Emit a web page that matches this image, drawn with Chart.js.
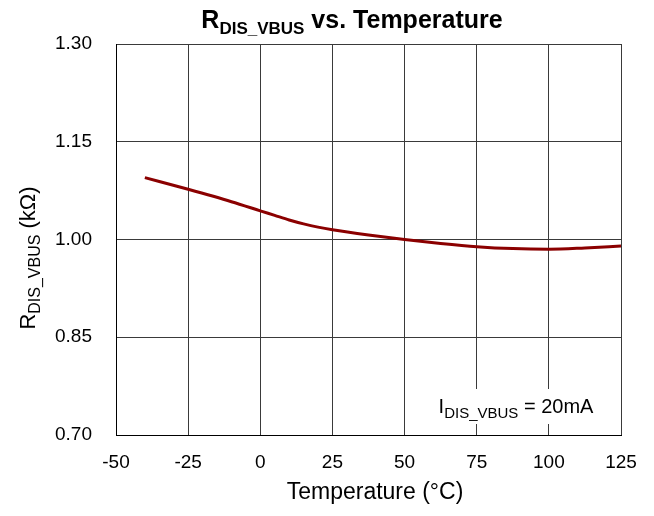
<!DOCTYPE html>
<html>
<head>
<meta charset="utf-8">
<script src="https://cdn.jsdelivr.net/npm/chart.js@4.4.1/dist/chart.umd.min.js"></script>
<style>
  html, body { margin: 0; padding: 0; background: #fff; }
  #c { display: block; }
</style>
</head>
<body>
<canvas id="c" width="654" height="516" style="width:654px;height:516px"></canvas>
<script>
/* data */
const temps = [-40, -25, -10, 0, 5, 10, 15, 20, 25, 37.5, 50, 62.5, 75, 87.5, 100, 112.5, 125];
const rdis  = [1.095, 1.077, 1.058, 1.044, 1.037, 1.030, 1.024, 1.019, 1.015, 1.007, 1.000, 0.994, 0.989, 0.986, 0.985, 0.987, 0.990];
const xTicks = [-50, -25, 0, 25, 50, 75, 100, 125];
const yTicks = [0.70, 0.85, 1.00, 1.15, 1.30];

const FONT = '"Liberation Sans", Arial, sans-serif';

// draws text made of parts (normal + subscript), centred on cx
const drawParts = (ctx, cx, y, parts) => {
  let w = 0;
  parts.forEach(p => {
    ctx.font = `${p.bold ? 'bold ' : ''}${p.size}px ${FONT}`;
    p.w = ctx.measureText(p.t).width;
    w += p.w;
  });
  let x = cx - w / 2;
  ctx.textAlign = 'left';
  ctx.textBaseline = 'alphabetic';
  parts.forEach(p => {
    ctx.font = `${p.bold ? 'bold ' : ''}${p.size}px ${FONT}`;
    ctx.fillText(p.t, x, y + (p.dy || 0));
    x += p.w;
  });
};

const textPlugin = {
  id: 'texts',
  beforeDatasetsDraw(chart) {
    // white box behind the note, hides the grid lines there
    const ctx = chart.ctx;
    ctx.save();
    ctx.fillStyle = '#fff';
    ctx.fillRect(420, 389, 199, 35);
    ctx.restore();
  },
  afterDraw(chart) {
    const ctx = chart.ctx;
    ctx.save();
    ctx.fillStyle = '#000';
    // title
    drawParts(ctx, 352, 28, [
      { t: 'R', size: 25, bold: true },
      { t: 'DIS_VBUS', size: 17, bold: true, dy: 6 },
      { t: ' vs. Temperature', size: 25, bold: true }
    ]);
    // x title
    ctx.font = `23px ${FONT}`;
    ctx.textAlign = 'center';
    ctx.textBaseline = 'middle';
    ctx.fillText('Temperature (°C)', 375, 493);
    // y title
    ctx.save();
    ctx.translate(35, 258);
    ctx.rotate(-Math.PI / 2);
    drawParts(ctx, 0, 0, [
      { t: 'R', size: 22 },
      { t: 'DIS_VBUS', size: 16, dy: 5 },
      { t: ' (kΩ)', size: 22 }
    ]);
    ctx.restore();
    // note
    drawParts(ctx, 516, 413, [
      { t: 'I', size: 20 },
      { t: 'DIS_VBUS', size: 15, dy: 5 },
      { t: ' = 20mA', size: 20 }
    ]);
    ctx.restore();
  }
};

new Chart(document.getElementById('c'), {
  type: 'line',
  data: {
    datasets: [{
      data: temps.map((t, i) => ({ x: t, y: rdis[i] })),
      borderColor: '#8b0000',
      borderWidth: 3,
      pointRadius: 0,
      fill: false,
      cubicInterpolationMode: 'monotone'
    }]
  },
  options: {
    responsive: false,
    animation: false,
    layout: { padding: { top: 44, right: 33, left: 0, bottom: 0 } },
    plugins: { legend: { display: false }, tooltip: { enabled: false }, title: { display: false } },
    scales: {
      x: {
        type: 'linear', min: -50, max: 125,
        afterBuildTicks: s => { s.ticks = xTicks.map(v => ({ value: v })); },
        afterFit: s => { s.height = 81; },
        grid: { color: '#3a3a3a', lineWidth: 1, drawTicks: false },
        border: { color: '#000', width: 1 },
        ticks: { padding: 16, color: '#000', font: { family: FONT, size: 19 }, callback: v => v, maxRotation: 0 }
      },
      y: {
        min: 0.70, max: 1.30,
        afterBuildTicks: s => { s.ticks = yTicks.map(v => ({ value: v })); },
        afterFit: s => { s.width = 116; },
        grid: { color: '#3a3a3a', lineWidth: 1, drawTicks: false },
        border: { color: '#000', width: 1 },
        ticks: { padding: 24, color: '#000', font: { family: FONT, size: 19 }, callback: v => v.toFixed(2) }
      }
    }
  },
  plugins: [textPlugin]
});
</script>
</body>
</html>
